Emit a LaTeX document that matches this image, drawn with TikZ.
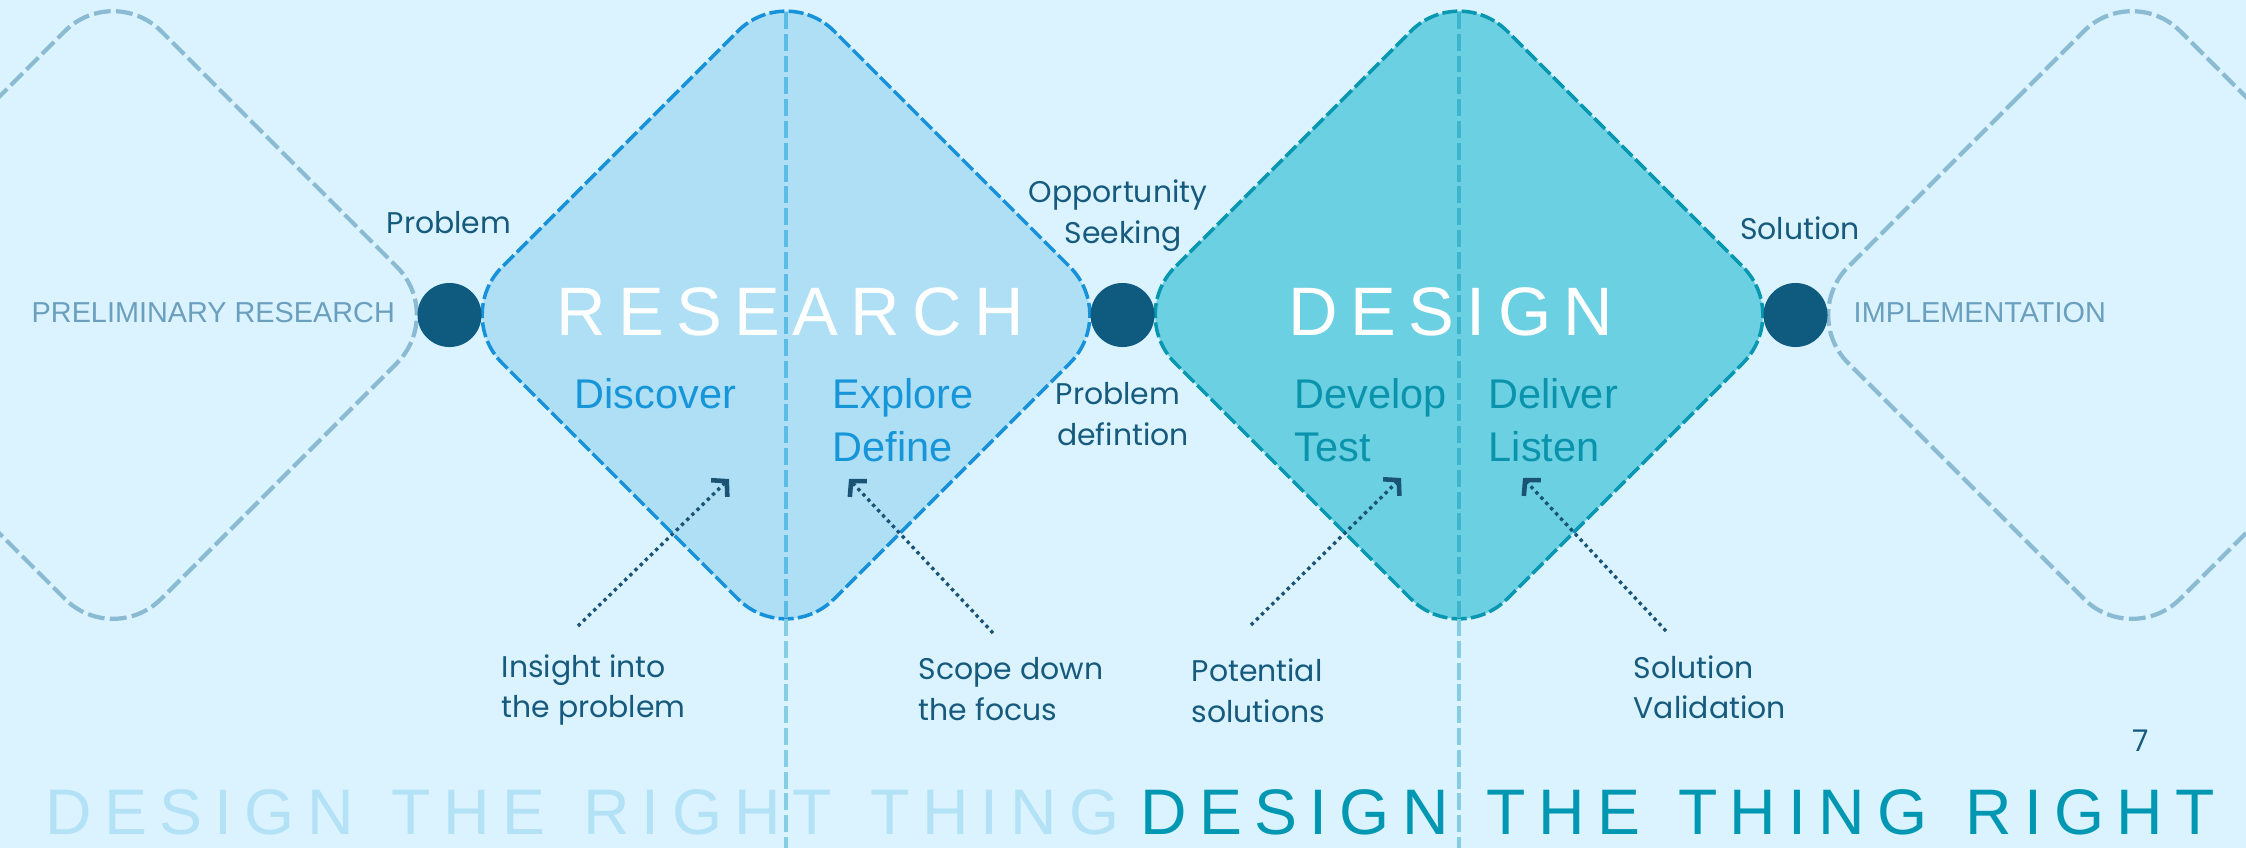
\documentclass[tikz,border=0pt]{standalone}
\usepackage{fontspec}
\setmainfont{Liberation Sans}
\newfontfamily\popfont{Poppins}
\newfontfamily\trackbig[LetterSpace=18]{Liberation Sans}
\newfontfamily\trackbot[LetterSpace=19,WordSpace=1.27]{Liberation Sans}
\usetikzlibrary{arrows.meta}
\definecolor{bgc}{HTML}{DAF3FF}
\definecolor{ghostc}{HTML}{8BBAD3}
\definecolor{resfill}{HTML}{AEDFF5}
\definecolor{resline}{HTML}{1691DA}
\definecolor{resmid}{HTML}{5CBCE8}
\definecolor{desfill}{HTML}{6BD0E2}
\definecolor{desline}{HTML}{0797B0}
\definecolor{desmid}{HTML}{3DB6CD}
\definecolor{lowline}{HTML}{84CDE5}
\definecolor{dotc}{HTML}{0F5B80}
\definecolor{darkt}{HTML}{165A7D}
\definecolor{bluet}{HTML}{1795D9}
\definecolor{tealt}{HTML}{0A93AC}
\definecolor{greyt}{HTML}{6A9FBD}
\definecolor{lightt}{HTML}{B3E1F6}
\definecolor{tealb}{HTML}{0097B2}
\definecolor{arrc}{HTML}{1B5375}
\begin{document}
\begin{tikzpicture}[x=0.01cm,y=-0.01cm,
  ghost/.style={draw=ghostc, line width=1.2pt, dash pattern=on 4.8pt off 1.5pt, rounded corners=0.68cm},
  resdia/.style={fill=resfill, draw=resline, line width=1pt, dash pattern=on 4.3pt off 1.2pt, rounded corners=0.68cm},
  desdia/.style={fill=desfill, draw=desline, line width=1pt, dash pattern=on 4.3pt off 1.2pt, rounded corners=0.68cm},
  midline/.style={line width=0.95pt, dash pattern=on 4.8pt off 1.4pt},
  dot/.style={circle, fill=dotc, minimum size=0.64cm, inner sep=0pt},
  lbl/.style={inner sep=0pt, anchor=base, text=darkt, font=\popfont\fontsize{8.5}{10}\selectfont},
  note/.style={inner sep=0pt, anchor=base west, text=darkt, font=\popfont\fontsize{8.5}{10}\selectfont},
  phase/.style={inner sep=0pt, anchor=base west, font=\fontsize{11.8}{13}\selectfont},
  side/.style={inner sep=0pt, anchor=base west, text=greyt, font=\fontsize{8.2}{10}\selectfont},
  big/.style={inner sep=0pt, anchor=base west, text=white, font=\trackbig\fontsize{19.5}{22}\selectfont},
  bottom/.style={inner sep=0pt, anchor=base west, font=\trackbot\fontsize{18.3}{20}\selectfont},
  hint/.style={draw=arrc, line width=0.95pt, dash pattern=on 0.95pt off 1.1pt, -{Straight Barb[length=3pt,width=6.6pt,line width=1.3pt]}}
]
\useasboundingbox (0,0) rectangle (2246,848);
\clip (0,0) rectangle (2246,848);
\fill[bgc] (0,0) rectangle (2246,848);

% ghost diamonds
\draw[ghost] (113-166,315-166) -- (113,315-332) -- (113+332,315) -- (113,315+332) -- (113-332,315) -- cycle;
\draw[ghost] (2132-166,315-166) -- (2132,315-332) -- (2132+332,315) -- (2132,315+332) -- (2132-332,315) -- cycle;

% main diamonds
\draw[resdia] (786-166,315-166) -- (786,315-332) -- (786+332,315) -- (786,315+332) -- (786-332,315) -- cycle;
\draw[desdia] (1459-166,315-166) -- (1459,315-332) -- (1459+332,315) -- (1459,315+332) -- (1459-332,315) -- cycle;

% bottom headings
\node[bottom, text=lightt] (right1) at (45,834) {DESIGN THE RIGHT THING};
\node[bottom, text=tealb] (right2) at (1140,834) {DESIGN THE THING RIGHT};

% centre lines
\draw[midline, draw=resmid] (786,12) -- (786,619);
\draw[midline, draw=lowline] (786,619) -- (786,848);
\draw[midline, draw=desmid] (1459,12) -- (1459,619);
\draw[midline, draw=lowline] (1459,619) -- (1459,848);

% dots
\node[dot] (d1) at (449.5,315) {};
\node[dot] (d2) at (1122.5,315) {};
\node[dot] (d3) at (1795.5,315) {};

% side labels
\node[side] (prelim) at (31,322) {PRELIMINARY RESEARCH};
\node[side] (impl) at (1853,322) {IMPLEMENTATION};

% big titles
\node[big] (research) at (556,335) {RESEARCH};
\node[big] (design) at (1288,335) {DESIGN};

% phase words
\node[phase, text=bluet] (discover) at (574,408) {Discover};
\node[phase, text=bluet] (explore) at (832,408) {Explore};
\node[phase, text=bluet] (define) at (832,461) {Define};
\node[phase, text=tealt] (develop) at (1294,408) {Develop};
\node[phase, text=tealt] (test) at (1294,461) {Test};
\node[phase, text=tealt] (deliver) at (1488,408) {Deliver};
\node[phase, text=tealt] (listen) at (1488,461) {Listen};

% point labels
\node[lbl] (problem) at (449,233) {Problem};
\node[lbl] (opp1) at (1118,202) {Opportunity};
\node[lbl] (opp2) at (1123,243) {Seeking};
\node[lbl] (pd1) at (1118,404) {Problem};
\node[lbl] (pd2) at (1123,445) {defintion};
\node[lbl] (solution) at (1800,239) {Solution};

% annotations
\node[note] (n1a) at (501,677) {Insight into};
\node[note] (n1b) at (501,717) {the problem};
\node[note] (n2a) at (918,679) {Scope down};
\node[note] (n2b) at (918,720) {the focus};
\node[note] (n3a) at (1191,681) {Potential};
\node[note] (n3b) at (1191,722) {solutions};
\node[note] (n4a) at (1633,678) {Solution};
\node[note] (n4b) at (1633,718) {Validation};

\node[inner sep=0pt, anchor=base, text=darkt, font=\popfont\fontsize{8.5}{10}\selectfont] (page) at (2141,751) {7};

% arrows
\coordinate (t1) at (578,626); \coordinate (h1) at (729,479);
\coordinate (t2) at (993,633); \coordinate (h2) at (849,479);
\coordinate (t3) at (1251,625); \coordinate (h3) at (1401,478);
\coordinate (t4) at (1666,631); \coordinate (h4) at (1523,478);
\draw[hint] (t1) -- (h1);
\draw[hint] (t2) -- (h2);
\draw[hint] (t3) -- (h3);
\draw[hint] (t4) -- (h4);
\end{tikzpicture}
\end{document}
